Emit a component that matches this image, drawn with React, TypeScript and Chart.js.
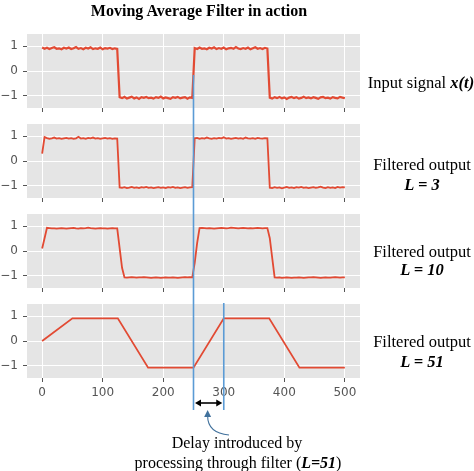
import React, { useEffect, useRef } from 'react';
import { Chart, registerables } from 'chart.js';

Chart.register(...registerables);

// ---------- data ----------
const sampleStep = 4; // spacing between plotted samples (index units)

const inputSignal = [
  0.95, 0.90, 0.94, 0.89, 0.93, 0.96, 0.90, 0.92, 0.88, 0.94, 0.91, 0.95, 0.89, 0.92, 0.97, 0.90,
  0.93, 0.88, 0.94, 0.91, 0.96, 0.89, 0.92, 0.90, 0.95, 0.88, 0.93, 0.91, 0.94, 0.89, 0.92, 0.90,
  -1.06, -1.10, -1.05, -1.12, -1.08, -1.04, -1.11, -1.07, -1.13, -1.06, -1.09, -1.05, -1.10, -1.08, -1.12, -1.06,
  -1.09, -1.04, -1.11, -1.07, -1.10, -1.13, -1.06, -1.09, -1.05, -1.11, -1.08, -1.06, -1.12, -1.07, -1.09,
  0.93, 0.89, 0.95, 0.90, 0.92, 0.88, 0.94, 0.91, 0.96, 0.89, 0.93, 0.90, 0.95, 0.88, 0.92, 0.94,
  0.90, 0.97, 0.91, 0.89, 0.93, 0.90, 0.95, 0.88, 0.92, 0.96, 0.90, 0.93, 0.89, 0.94, 0.91,
  -1.08, -1.12, -1.06, -1.10, -1.05, -1.11, -1.07, -1.13, -1.08, -1.05, -1.10, -1.06, -1.12, -1.09, -1.04, -1.10,
  -1.07, -1.11, -1.06, -1.09, -1.13, -1.07, -1.05, -1.10, -1.08, -1.12, -1.06, -1.09, -1.11, -1.05, -1.08, -1.10,
];

const filteredL3 = [
  0.30, 0.97, 0.93, 0.90, 0.92, 0.95, 0.91, 0.93, 0.90, 0.92, 0.94, 0.91, 0.93, 0.90, 0.92, 0.98,
  0.91, 0.93, 0.90, 0.94, 0.92, 0.95, 0.91, 0.93, 0.90, 0.92, 0.94, 0.91, 0.93, 0.90, 0.92, 0.91,
  -1.07, -1.09, -1.06, -1.10, -1.08, -1.05, -1.09, -1.07, -1.10, -1.06, -1.08, -1.05, -1.09, -1.07, -1.10, -1.08,
  -1.06, -1.09, -1.07, -1.10, -1.06, -1.08, -1.05, -1.09, -1.07, -1.10, -1.08, -1.06, -1.09, -1.07, -1.06,
  0.92, 0.94, 0.90, 0.93, 0.91, 0.95, 0.92, 0.90, 0.93, 0.91, 0.94, 0.92, 0.96, 0.91, 0.93, 0.90,
  0.92, 0.94, 0.91, 0.93, 0.90, 0.95, 0.92, 0.91, 0.93, 0.90, 0.94, 0.92, 0.91, 0.93, 0.92,
  -1.08, -1.10, -1.06, -1.09, -1.07, -1.11, -1.08, -1.05, -1.09, -1.07, -1.10, -1.06, -1.08, -1.05, -1.09, -1.07,
  -1.10, -1.08, -1.06, -1.09, -1.07, -1.04, -1.08, -1.10, -1.06, -1.09, -1.07, -1.10, -1.05, -1.08, -1.06, -1.07,
];

const filteredL10 = [
  0.10, 0.52, 0.94, 0.93, 0.92, 0.92, 0.91, 0.92, 0.93, 0.92, 0.91, 0.92, 0.93, 0.94, 0.92, 0.91,
  0.93, 0.92, 0.93, 0.95, 0.93, 0.92, 0.91, 0.92, 0.93, 0.92, 0.92, 0.91, 0.92, 0.93, 0.92, 0.92,
  0.12, -0.68, -1.07, -1.08, -1.07, -1.06, -1.07, -1.08, -1.07, -1.07, -1.06, -1.07, -1.08, -1.09, -1.08, -1.07,
  -1.08, -1.09, -1.08, -1.07, -1.08, -1.08, -1.07, -1.08, -1.09, -1.08, -1.07, -1.06, -1.07, -1.06, -1.07,
  -0.48, 0.32, 0.93, 0.94, 0.93, 0.92, 0.93, 0.92, 0.91, 0.92, 0.93, 0.94, 0.93, 0.92, 0.93, 0.95,
  0.94, 0.93, 0.92, 0.93, 0.94, 0.93, 0.92, 0.93, 0.92, 0.93, 0.94, 0.93, 0.92, 0.93, 0.93,
  0.52, -0.28, -1.07, -1.08, -1.07, -1.09, -1.08, -1.07, -1.08, -1.09, -1.08, -1.08, -1.07, -1.08, -1.09, -1.08,
  -1.07, -1.07, -1.06, -1.07, -1.08, -1.09, -1.08, -1.07, -1.08, -1.08, -1.07, -1.06, -1.07, -1.08, -1.07, -1.07,
];

const filteredL51X = [0, 50, 125, 175, 250, 300, 375, 425, 500];
const filteredL51Y = [0.0, 0.92, 0.92, -1.08, -1.08, 0.92, 0.92, -1.08, -1.08];

const xTickValues = [0, 100, 200, 300, 400, 500];
const yTickValues = [-1, 0, 1];
const delayStart = 250;
const delayEnd = 300;

// ---------- style ----------
const RED = '#E24A33';
const BLUE = '#5B9BD5';
const ARROW_BLUE = '#41719C';
const PANEL_BG = '#E5E5E5';
const TICK_GRAY = '#555555';
const SERIF = '"Liberation Serif", "Times New Roman", serif';

const X_MIN = -25;
const X_MAX = 525;
const Y_MIN = -1.5;
const Y_MAX = 1.5;
const AREA_LEFT = 27;
const AREA_RIGHT = 360;
const W = 474;
const H = 471;
const PANEL_H = 74;
const PAD = 20;

const toPoints = (ys: number[]) => ys.map((y, i) => ({ x: i * sampleStep, y }));
const toXY = (xs: number[], ys: number[]) => xs.map((x, i) => ({ x, y: ys[i] }));

const fmtTick = (v: number) => (v < 0 ? '\u2212' + Math.abs(v) : String(v));

const bgPlugin = {
  id: 'panelBg',
  beforeDraw(chart: any) {
    const { ctx, chartArea } = chart;
    ctx.save();
    ctx.fillStyle = PANEL_BG;
    ctx.fillRect(chartArea.left, chartArea.top, chartArea.right - chartArea.left, chartArea.bottom - chartArea.top);
    ctx.restore();
  },
};

function arrowHead(ctx: CanvasRenderingContext2D, x: number, y: number, angle: number, len: number, half: number) {
  ctx.save();
  ctx.translate(x, y);
  ctx.rotate(angle);
  ctx.beginPath();
  ctx.moveTo(0, 0);
  ctx.lineTo(-len, -half);
  ctx.lineTo(-len, half);
  ctx.closePath();
  ctx.fill();
  ctx.restore();
}

const delayPlugin = {
  id: 'delayOverlay',
  afterDraw(chart: any) {
    const { ctx } = chart;
    const xs = chart.scales.x;
    const x1 = xs.getPixelForValue(delayStart);
    const x2 = xs.getPixelForValue(delayEnd);
    ctx.save();
    ctx.strokeStyle = BLUE;
    ctx.lineWidth = 1.6;
    ctx.beginPath();
    ctx.moveTo(x1, 75);
    ctx.lineTo(x1, 410);
    ctx.moveTo(x2, 303);
    ctx.lineTo(x2, 410);
    ctx.stroke();
    const ay = 403;
    ctx.strokeStyle = '#000';
    ctx.fillStyle = '#000';
    ctx.lineWidth = 1.6;
    ctx.beginPath();
    ctx.moveTo(x1 + 5, ay);
    ctx.lineTo(x2 - 5, ay);
    ctx.stroke();
    arrowHead(ctx, x1 + 1.5, ay, Math.PI, 6, 3.5);
    arrowHead(ctx, x2 - 1.5, ay, 0, 6, 3.5);
    const ex = (x1 + x2) / 2 - 1;
    ctx.strokeStyle = ARROW_BLUE;
    ctx.fillStyle = ARROW_BLUE;
    ctx.lineWidth = 1.1;
    ctx.beginPath();
    ctx.moveTo(229, 435);
    ctx.quadraticCurveTo(ex, 433, ex, 416);
    ctx.stroke();
    arrowHead(ctx, ex, 410, -Math.PI / 2, 7, 3.5);
    ctx.restore();
  },
};

type PanelSpec = {
  canvasTop: number;
  canvasHeight: number;
  padTop: number;
  padBottom: number;
  xAxisHeight: number;
  showXLabels: boolean;
  points: { x: number; y: number }[];
  width: number;
  overlay: boolean;
};

const smallPanel = (areaTop: number, points: { x: number; y: number }[], width: number): PanelSpec => ({
  canvasTop: areaTop - PAD,
  canvasHeight: PAD + PANEL_H + 8 + PAD,
  padTop: PAD,
  padBottom: PAD,
  xAxisHeight: 8,
  showXLabels: false,
  points,
  width,
  overlay: false,
});

const panels: PanelSpec[] = [
  smallPanel(34, toPoints(inputSignal), 2.2),
  smallPanel(124, toPoints(filteredL3), 1.8),
  smallPanel(214, toPoints(filteredL10), 1.8),
  { canvasTop: 0, canvasHeight: H, padTop: 304, padBottom: H - (304 + PANEL_H) - 20, xAxisHeight: 20, showXLabels: true, points: toXY(filteredL51X, filteredL51Y), width: 1.8, overlay: true },
];

function Panel({ spec }: { spec: PanelSpec }) {
  const ref = useRef<HTMLCanvasElement | null>(null);
  useEffect(() => {
    if (!ref.current) return;
    const chart = new Chart(ref.current, {
      type: 'line',
      data: {
        datasets: [
          {
            data: spec.points,
            borderColor: RED,
            borderWidth: spec.width,
            pointRadius: 0,
            tension: 0,
            fill: false,
          },
        ],
      },
      options: {
        animation: false,
        responsive: false,
        devicePixelRatio: 1,
        events: [],
        layout: {
          autoPadding: false,
          padding: { left: 0, right: W - AREA_RIGHT, top: spec.padTop, bottom: spec.padBottom },
        },
        plugins: { legend: { display: false }, tooltip: { enabled: false } },
        scales: {
          x: {
            type: 'linear',
            min: X_MIN,
            max: X_MAX,
            afterBuildTicks: (s: any) => {
              s.ticks = xTickValues.map((v) => ({ value: v }));
            },
            afterFit: (s: any) => {
              s.height = spec.xAxisHeight;
            },
            border: { display: false },
            grid: { color: '#FFFFFF', lineWidth: 1, tickColor: TICK_GRAY, tickLength: 4, drawTicks: true },
            ticks: {
              display: spec.showXLabels,
              color: TICK_GRAY,
              padding: 4,
              maxRotation: 0,
              autoSkip: false,
              font: { family: '"DejaVu Sans", sans-serif', size: 12 },
              callback: (v: any) => fmtTick(Number(v)),
            },
          },
          y: {
            type: 'linear',
            min: Y_MIN,
            max: Y_MAX,
            afterBuildTicks: (s: any) => {
              s.ticks = yTickValues.map((v) => ({ value: v }));
            },
            afterFit: (s: any) => {
              s.width = AREA_LEFT;
            },
            border: { display: false },
            grid: { color: '#FFFFFF', lineWidth: 1, tickColor: TICK_GRAY, tickLength: 4, drawTicks: true },
            ticks: {
              color: TICK_GRAY,
              padding: 5,
              autoSkip: false,
              font: { family: '"DejaVu Sans", sans-serif', size: 12 },
              callback: (v: any) => fmtTick(Number(v)),
            },
          },
        },
      } as any,
      plugins: spec.overlay ? [bgPlugin, delayPlugin] : [bgPlugin],
    });
    return () => chart.destroy();
  }, [spec]);
  return (
    <canvas
      ref={ref}
      width={W}
      height={spec.canvasHeight}
      style={{ position: 'absolute', left: 0, top: spec.canvasTop, width: W, height: spec.canvasHeight }}
    />
  );
}

const txt = (extra: React.CSSProperties): React.CSSProperties => ({
  position: 'absolute',
  whiteSpace: 'nowrap',
  transform: 'translate(-50%, -50%)',
  fontFamily: SERIF,
  fontSize: 16.5,
  lineHeight: '18px',
  color: '#000',
  ...extra,
});

export default function App() {
  return (
    <div style={{ position: 'fixed', left: 0, top: 0, width: W, height: H, background: '#fff', overflow: 'hidden' }}>
      {panels.map((p, i) => (
        <Panel key={i} spec={p} />
      ))}
      <div style={txt({ left: 199, top: 11, fontWeight: 'bold', fontSize: 16 })}>Moving Average Filter in action</div>
      <div style={txt({ left: 421, top: 83 })}>
        Input signal <b><i>x(t)</i></b>
      </div>
      <div style={txt({ left: 422, top: 165 })}>Filtered output</div>
      <div style={txt({ left: 422, top: 185, fontWeight: 'bold', fontStyle: 'italic' })}>L = 3</div>
      <div style={txt({ left: 422, top: 252 })}>Filtered output</div>
      <div style={txt({ left: 422, top: 270, fontWeight: 'bold', fontStyle: 'italic' })}>L = 10</div>
      <div style={txt({ left: 422, top: 342 })}>Filtered output</div>
      <div style={txt({ left: 422, top: 362, fontWeight: 'bold', fontStyle: 'italic' })}>L = 51</div>
      <div style={txt({ left: 237, top: 443, fontSize: 16 })}>Delay introduced by</div>
      <div style={txt({ left: 238, top: 463, fontSize: 16 })}>
        processing through filter (<b><i>L=51</i></b>)
      </div>
    </div>
  );
}
